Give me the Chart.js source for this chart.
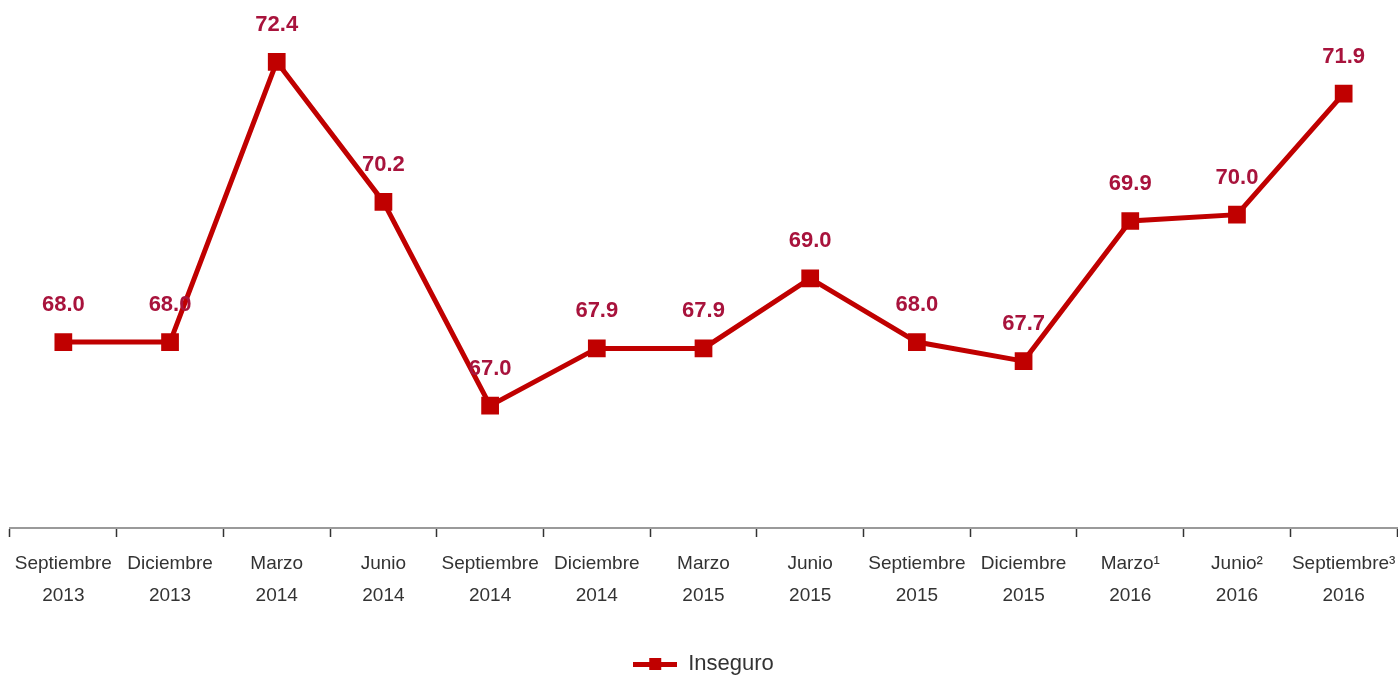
<!DOCTYPE html>
<html>
<head>
<meta charset="utf-8">
<script src="https://cdn.jsdelivr.net/npm/chart.js@4/dist/chart.umd.min.js"></script>
<style>
  html, body { margin: 0; padding: 0; background: #fff; }
  #wrap { width: 1398px; height: 678px; }
</style>
</head>
<body>
<div id="wrap"><canvas id="chart"></canvas></div>
<script>
// Quarter labels (two lines each)
const months = ['Septiembre', 'Diciembre', 'Marzo', 'Junio', 'Septiembre', 'Diciembre', 'Marzo',
  'Junio', 'Septiembre', 'Diciembre', 'Marzo\u00B9', 'Junio\u00B2', 'Septiembre\u00B3'];
const years = ['2013', '2013', '2014', '2014', '2014', '2014', '2015',
  '2015', '2015', '2015', '2016', '2016', '2016'];
const inseguro = [68.0, 68.0, 72.4, 70.2, 67.0, 67.9, 67.9, 69.0, 68.0, 67.7, 69.9, 70.0, 71.9];

const LINE_COLOR = '#C00000';
const LABEL_COLOR = '#A8133C';
const FONT = '"Liberation Sans", Arial, sans-serif';

// Legend marker: short line with a square in the middle
function legendMarker() {
  const c = document.createElement('canvas');
  c.width = 44; c.height = 16;
  const g = c.getContext('2d');
  g.fillStyle = LINE_COLOR;
  g.fillRect(0, 6, 44, 5);
  g.fillRect(16, 2, 12, 12);
  return c;
}

// Draw the value above every point
const valueLabels = {
  id: 'valueLabels',
  afterDatasetsDraw(chart) {
    const ctx = chart.ctx;
    const meta = chart.getDatasetMeta(0);
    ctx.save();
    ctx.font = 'bold 22px ' + FONT;
    ctx.fillStyle = LABEL_COLOR;
    ctx.textAlign = 'center';
    ctx.textBaseline = 'middle';
    meta.data.forEach((pt, i) => {
      ctx.fillText(inseguro[i].toFixed(1), pt.x, pt.y - 37);
    });
    ctx.restore();
  },
};

new Chart(document.getElementById('chart'), {
  type: 'line',
  data: {
    labels: months.map((m, i) => [m, years[i]]),
    datasets: [{
      label: 'Inseguro',
      data: inseguro,
      borderColor: LINE_COLOR,
      backgroundColor: LINE_COLOR,
      borderWidth: 5,
      pointStyle: 'rect',
      pointRadius: 9,
      pointHoverRadius: 9,
      tension: 0,
      fill: false,
    }],
  },
  options: {
    responsive: true,
    maintainAspectRatio: false,
    animation: false,
    layout: { autoPadding: false, padding: { left: 10, right: 1, top: 0, bottom: -7 } },
    scales: {
      x: {
        offset: true,
        border: { color: '#9a9a9a', width: 2 },
        grid: { offset: true, drawOnChartArea: false, tickLength: 9, tickColor: '#333', tickWidth: 1.5 },
        ticks: {
          color: '#333',
          font: { family: FONT, size: 19, lineHeight: 1.68 },
          maxRotation: 0,
          autoSkip: false,
          padding: 11,
        },
        afterFit(scale) {
          scale.height = 121;
          // labels fit inside their own slots, no side padding needed
          scale.paddingLeft = 0;
          scale.paddingRight = 0;
        },
      },
      y: {
        display: false,
        min: 65.08,
        max: 73.37,
      },
    },
    plugins: {
      legend: {
        position: 'bottom',
        labels: {
          usePointStyle: true,
          pointStyle: legendMarker(),
          pointStyleWidth: 44,
          color: '#333',
          font: { family: FONT, size: 22 },
          padding: 4,
        },
      },
      tooltip: { enabled: false },
    },
  },
  plugins: [valueLabels],
});
</script>
</body>
</html>
